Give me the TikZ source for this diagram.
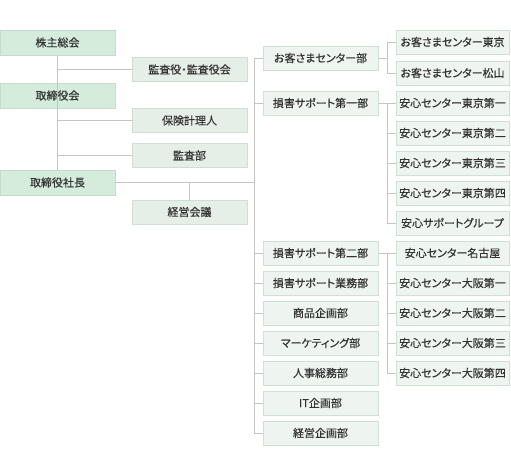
\documentclass[tikz,border=0pt]{standalone}
\usepackage{fontspec}
\setmainfont{Noto Sans CJK JP}[RawFeature=+palt,FakeBold=0.4]
\definecolor{lfill}{HTML}{D5ECDC}
\definecolor{ldraw}{HTML}{C2DCC8}
\definecolor{mfill}{HTML}{E5EEE7}
\definecolor{mdraw}{HTML}{CDDFD1}
\definecolor{rfill}{HTML}{EEF5F0}
\definecolor{rdraw}{HTML}{CFE1D3}
\definecolor{conncol}{HTML}{C4C4C4}
\definecolor{txt}{HTML}{333333}
\begin{document}
\begin{tikzpicture}[x=1pt,y=-1pt,
  basebox/.style={rectangle,inner sep=0pt,line width=1pt,text=txt,
    font=\fontsize{11pt}{13pt}\selectfont,minimum height=24pt},
  lbox/.style={basebox,fill=lfill,draw=ldraw,minimum width=115pt,minimum height=25pt},
  mbox/.style={basebox,fill=mfill,draw=mdraw,minimum width=115pt},
  rbox/.style={basebox,fill=rfill,draw=rdraw,minimum width=115pt},
  qbox/.style={basebox,fill=rfill,draw=rdraw,minimum width=113pt},
  conn/.style={draw=conncol,line width=1pt}]
\useasboundingbox (0,0) rectangle (511,475);
% left column
\node[lbox] (A) at (57.5,42.5) {株主総会};
\node[lbox] (B) at (57.5,95.5) {取締役会};
\node[lbox] (C) at (57.5,182.5) {取締役社長};
% middle column
\node[mbox] (D) at (189.5,69.5) {監査役・監査役会};
\node[mbox] (E) at (189.5,120.5) {保険計理人};
\node[mbox] (F) at (189.5,155.5) {監査部};
\node[mbox] (G) at (189.5,212) {経営会議};
% third column
\node[rbox] (H) at (320.5,58) {お客さまセンター部};
\node[rbox] (I) at (320.5,103) {損害サポート第一部};
\node[rbox] (J) at (320.5,253) {損害サポート第二部};
\node[rbox] (K) at (320.5,283) {損害サポート業務部};
\node[rbox] (L) at (320.5,313) {商品企画部};
\node[rbox] (M) at (320.5,343) {マーケティング部};
\node[rbox] (N) at (320.5,373) {人事総務部};
\node[rbox] (O) at (320.5,403) {IT企画部};
\node[rbox] (P) at (320.5,433) {経営企画部};
% fourth column
\node[qbox] (Q1) at (452.5,42) {お客さまセンター東京};
\node[qbox] (Q2) at (452.5,73) {お客さまセンター松山};
\node[qbox] (R1) at (452.5,103) {安心センター東京第一};
\node[qbox] (R2) at (452.5,133) {安心センター東京第二};
\node[qbox] (R3) at (452.5,163) {安心センター東京第三};
\node[qbox] (R4) at (452.5,193) {安心センター東京第四};
\node[qbox] (R5) at (452.5,223) {安心サポートグループ};
\node[qbox] (S1) at (452.5,253) {安心センター名古屋};
\node[qbox] (S2) at (452.5,283) {安心センター大阪第一};
\node[qbox] (S3) at (452.5,313) {安心センター大阪第二};
\node[qbox] (S4) at (452.5,343) {安心センター大阪第三};
\node[qbox] (S5) at (452.5,373) {安心センター大阪第四};
% helper x positions
\coordinate (T) at (254,0);
\coordinate (U) at (387,0);
% left connectors
\draw[conn] (A.south) -- (C.north);
\draw[conn] (D.west -| A.south) -- (D.west);
\draw[conn] (E.west -| A.south) -- (E.west);
\draw[conn] (F.west -| A.south) -- (F.west);
\draw[conn] (C.east) -- (C.east -| T);
\draw[conn] (G.north) -- (G.north |- C.east);
% trunk
\draw[conn] (H.west) -- (H.west -| T) -- (P.west -| T) -- (P.west);
\foreach \n in {I,J,K,L,M,N,O}{\draw[conn] (\n.west -| T) -- (\n.west);}
% H branch
\draw[conn] (H.east) -- (H.east -| U);
\draw[conn] (Q1.west) -- (Q1.west -| U) -- (Q2.west -| U) -- (Q2.west);
% I branch
\draw[conn] (I.east) -- (R1.west);
\draw[conn] (R1.west -| U) -- (R5.west -| U) -- (R5.west);
\foreach \n in {R2,R3,R4}{\draw[conn] (\n.west -| U) -- (\n.west);}
% J branch
\draw[conn] (J.east) -- (S1.west);
\draw[conn] (S1.west -| U) -- (S5.west -| U) -- (S5.west);
\foreach \n in {S2,S3,S4}{\draw[conn] (\n.west -| U) -- (\n.west);}
\end{tikzpicture}
\end{document}
